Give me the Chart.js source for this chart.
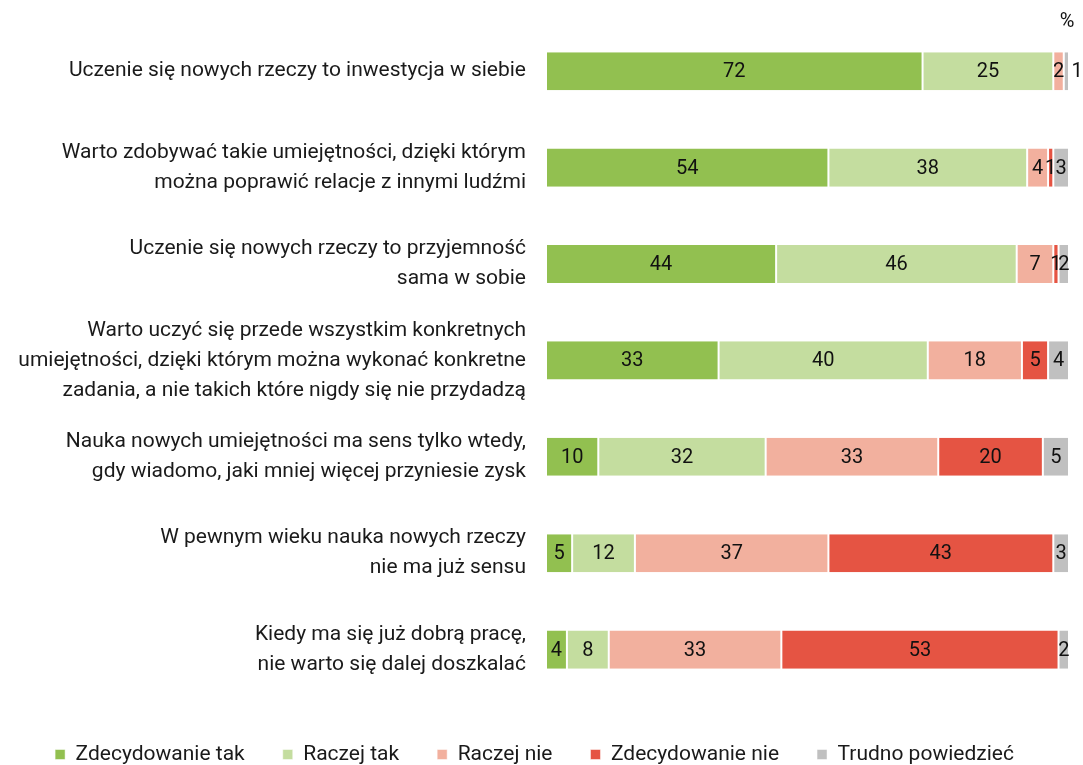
<!DOCTYPE html>
<html>
<head>
<meta charset="utf-8">
<script src="https://cdn.jsdelivr.net/npm/chart.js@4.4.1/dist/chart.umd.min.js"></script>
<style>
  body{ margin:0; background:#fff; }
  #wrap{ width:1083px; height:765px; position:relative; }
</style>
</head>
<body>
<div id="wrap"><canvas id="chart"></canvas></div>
<script>

// DATA
const statements = [
    "Uczenie się nowych rzeczy to inwestycja w siebie",
    ["Warto zdobywać takie umiejętności, dzięki którym", "można poprawić relacje z innymi ludźmi"],
    ["Uczenie się nowych rzeczy to przyjemność", "sama w sobie"],
    ["Warto uczyć się przede wszystkim konkretnych", "umiejętności, dzięki którym można wykonać konkretne", "zadania, a nie takich które nigdy się nie przydadzą"],
    ["Nauka nowych umiejętności ma sens tylko wtedy,", "gdy wiadomo, jaki mniej więcej przyniesie zysk"],
    ["W pewnym wieku nauka nowych rzeczy", "nie ma już sensu"],
    ["Kiedy ma się już dobrą pracę,", "nie warto się dalej doszkalać"]
];

const definitelyYes = [72, 54, 44, 33, 10, 5, 4];
const ratherYes     = [25, 38, 46, 40, 32, 12, 8];
const ratherNo      = [2, 4, 7, 18, 33, 37, 33];
const definitelyNo  = [0, 1, 1, 5, 20, 43, 53];
const hardToSay     = [1, 3, 2, 4, 5, 3, 2];

const seriesNames = ["Zdecydowanie tak", "Raczej tak", "Raczej nie", "Zdecydowanie nie", "Trudno powiedzieć"];
const seriesColors = ["#92c050", "#c4dd9f", "#f2b09e", "#e55443", "#c0c0c0"];
const seriesValues = [definitelyYes, ratherYes, ratherNo, definitelyNo, hardToSay];

const FONT = "Roboto";


// VALUE LABELS INSIDE BARS
const valueLabels = {
    id:"valueLabels",
    afterDatasetsDraw(chart){

        const ctx = chart.ctx;
        ctx.save();
        ctx.font = "20px " + FONT;
        ctx.fillStyle = "#111";
        ctx.textAlign = "center";
        ctx.textBaseline = "middle";

        chart.data.datasets.forEach((ds, di) => {
            const meta = chart.getDatasetMeta(di);
            meta.data.forEach((bar, i) => {
                const v = ds.data[i];
                if(!v) return;
                let x = (bar.x + bar.base) / 2;
                // last thin segment: label goes right of the bar
                if(di === chart.data.datasets.length - 1 && Math.abs(bar.x - bar.base) < 6){
                    x = bar.x + 8;
                }
                ctx.fillText(String(v), x, bar.y + 1);
            });
        });

        // percent sign top right
        ctx.fillText("%", 1067, 22);
        ctx.restore();

    }
};


// CHART
new Chart(document.getElementById("chart"), {
    type:"bar",
    data:{
        labels:statements,
        datasets:seriesNames.map((name, i) => ({
            label:name,
            data:seriesValues[i],
            backgroundColor:seriesColors[i],
            borderColor:"#ffffff",
            borderWidth:{left:1, right:1, top:0, bottom:0},
            borderSkipped:false,
            barPercentage:0.395,
            categoryPercentage:1
        }))
    },
    options:{
        indexAxis:"y",
        responsive:true,
        maintainAspectRatio:false,
        animation:false,
        layout:{
            padding:{top:23, right:14, bottom:-10, left:0}
        },
        scales:{
            x:{
                stacked:true,
                display:false,
                min:0,
                max:100
            },
            y:{
                stacked:true,
                grid:{display:false},
                border:{display:false},
                ticks:{
                    color:"#1a1a1a",
                    padding:12,
                    font:{family:FONT, size:21, lineHeight:1.43}
                },
                afterFit(scale){
                    scale.width = 546;
                    scale.paddingTop = 0;
                    scale.paddingBottom = 0;
                }
            }
        },
        plugins:{
            legend:{
                position:"bottom",
                title:{
                    display:true,
                    text:" ",
                    font:{size:1},
                    padding:{top:7, bottom:0}
                },
                labels:{
                    color:"#1a1a1a",
                    boxWidth:10,
                    boxHeight:10,
                    padding:38,
                    font:{family:FONT, size:21}
                }
            },
            tooltip:{enabled:false}
        }
    },
    plugins:[valueLabels]
});

</script>
</body>
</html>
